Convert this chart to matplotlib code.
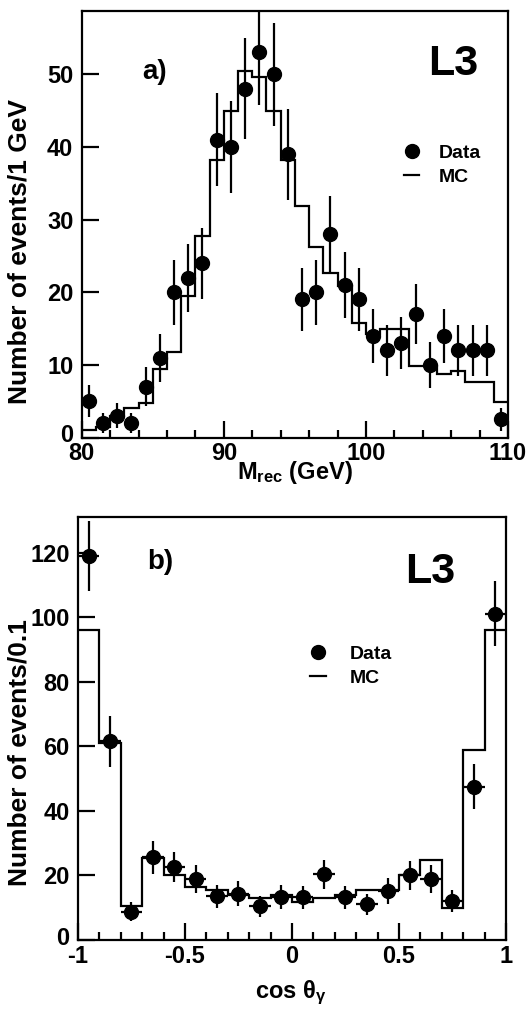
import numpy as np
import matplotlib
matplotlib.use("Agg")
import matplotlib.pyplot as plt
import matplotlib.transforms as mtransforms
from matplotlib.lines import Line2D
from matplotlib.ticker import MultipleLocator, FixedLocator, FuncFormatter

plt.rcParams['font.family'] = ['Liberation Sans', 'DejaVu Sans']
plt.rcParams['font.weight'] = 'bold'
plt.rcParams['mathtext.fontset'] = 'custom'
plt.rcParams['mathtext.rm'] = 'Liberation Sans:bold'
plt.rcParams['mathtext.bf'] = 'Liberation Sans:bold'
plt.rcParams['mathtext.it'] = 'Liberation Sans'
plt.rcParams['axes.unicode_minus'] = False

# ---- panel a: recoil mass ----
mrec_edges = np.arange(80, 111, 1)
mrec_centers = mrec_edges[:-1] + 0.5
mrec_data = [5, 2, 3, 2, 7, 11, 20, 22, 24, 41, 40, 48, 53, 50, 39,
             19, 20, 28, 21, 19, 14, 12, 13, 17, 10, 14, 12, 12, 12, 2.5]
mrec_mc = [1.0, 1.5, 3.0, 4.1, 4.8, 9.4, 11.8, 19.5, 27.7, 38.2, 45.0, 50.5,
           49.6, 45.0, 38.2, 31.9, 26.2, 22.6, 20.8, 15.8, 14.2, 14.9, 14.9,
           9.8, 9.8, 8.7, 9.1, 7.6, 7.6, 4.9]

# ---- panel b: cos theta_gamma ----
cos_edges = np.round(np.arange(-1.0, 1.01, 0.1), 2)
cos_centers = cos_edges[:-1] + 0.05
cos_data = [119, 61.5, 8.7, 25.6, 22.6, 18.8, 13.5, 14.4, 10.5, 13.3,
            13.2, 20.3, 13.2, 11.0, 15.2, 20.0, 19.0, 12.0, 47.5, 101]
cos_mc = [96, 61, 10.5, 25.5, 20, 16.3, 15.4, 13.8, 13.0, 13.8,
          11.8, 12.9, 13.8, 15.4, 15.4, 20.0, 24.8, 9.8, 59, 96]

fig = plt.figure(figsize=(5.29, 10.10), dpi=100)
ax1 = fig.add_axes([0.1544, 0.5668, 0.806, 0.4223])
ax2 = fig.add_axes([0.1474, 0.0693, 0.809, 0.4188])

LW = 1.6
TICKFS = 17
XLABFS = 17
YLABFS = 19

def style(ax):
    for s in ax.spines.values():
        s.set_linewidth(LW)
    ax.tick_params(which='both', direction='in', top=False, right=False,
                   width=LW, labelsize=TICKFS)
    ax.tick_params(axis='y', which='major', pad=6)
    ax.tick_params(which='major', length=12)
    ax.tick_params(which='minor', length=6)
    for lab in ax.get_xticklabels() + ax.get_yticklabels():
        lab.set_fontweight('bold')

def fmt(v, pos):
    if abs(v - round(v)) < 1e-9:
        return '%d' % round(v)
    return ('%.1f' % v)

def lift_zero_label(ax, dy_pt):
    lbl = ax.yaxis.get_major_ticks()[0].label1
    lbl.set_transform(lbl.get_transform() +
                      mtransforms.ScaledTranslation(0, dy_pt / 72, fig.dpi_scale_trans))

# panel a
ax1.stairs(mrec_mc, mrec_edges, color='black', linewidth=LW, baseline=None)
ax1.errorbar(mrec_centers, mrec_data, yerr=np.sqrt(mrec_data), fmt='o',
             color='black', markersize=10, elinewidth=LW, capsize=0)
ax1.set_xlim(80, 110)
ax1.set_ylim(0, 58.7)
ax1.xaxis.set_major_locator(FixedLocator([80, 90, 100, 110]))
ax1.xaxis.set_minor_locator(MultipleLocator(2))
ax1.yaxis.set_major_locator(FixedLocator([0, 10, 20, 30, 40, 50]))
ax1.xaxis.set_major_formatter(FuncFormatter(fmt))
ax1.yaxis.set_major_formatter(FuncFormatter(fmt))
style(ax1)
lift_zero_label(ax1, 3)
ax1.set_xlabel(r'M$_{\mathbf{rec}}$ (GeV)', fontsize=XLABFS, fontweight='bold')
ax1.set_ylabel('Number of events/1 GeV', fontsize=YLABFS, fontweight='bold')
ax1.xaxis.set_label_coords(0.5, -0.05)
ax1.yaxis.set_label_coords(-0.118, 0.437)
ax1.text(0.141, 0.857, 'a)', transform=ax1.transAxes, fontsize=20,
         fontweight='bold', ha='left', va='center')
ax1.text(0.93, 0.875, 'L3', transform=ax1.transAxes, fontsize=31,
         fontweight='bold', ha='right', va='center')
h_data = Line2D([], [], marker='o', color='black', linestyle='none', markersize=10)
h_mc = Line2D([], [], color='black', linewidth=LW)
ax1.legend([h_data, h_mc], ['Data', 'MC'], loc='upper left',
           bbox_to_anchor=(0.757, 0.687), frameon=False,
           handlelength=0.75, handletextpad=1.0, labelspacing=0.3,
           borderpad=0, borderaxespad=0, prop={'weight': 'bold', 'size': 14})

# panel b
ax2.stairs(cos_mc, cos_edges, color='black', linewidth=LW, baseline=None)
ax2.errorbar(cos_centers, cos_data, yerr=np.sqrt(cos_data), xerr=0.05,
             fmt='o', color='black', markersize=10, elinewidth=LW, capsize=0)
ax2.set_xlim(-1, 1)
ax2.set_ylim(0, 131)
ax2.xaxis.set_major_locator(FixedLocator([-1, -0.5, 0, 0.5, 1]))
ax2.xaxis.set_minor_locator(MultipleLocator(0.1))
ax2.yaxis.set_major_locator(FixedLocator([0, 20, 40, 60, 80, 100, 120]))
ax2.xaxis.set_major_formatter(FuncFormatter(fmt))
ax2.yaxis.set_major_formatter(FuncFormatter(fmt))
style(ax2)
lift_zero_label(ax2, 3)
ax2.set_xlabel(r'$\mathbf{cos}\ \theta_{\gamma}$', fontsize=XLABFS)
ax2.set_ylabel('Number of events/0.1', fontsize=YLABFS, fontweight='bold')
ax2.xaxis.set_label_coords(0.497, -0.092)
ax2.yaxis.set_label_coords(-0.108, 0.444)
ax2.text(0.161, 0.894, 'b)', transform=ax2.transAxes, fontsize=20,
         fontweight='bold', ha='left', va='center')
ax2.text(0.881, 0.87, 'L3', transform=ax2.transAxes, fontsize=31,
         fontweight='bold', ha='right', va='center')
ax2.legend([h_data, h_mc], ['Data', 'MC'], loc='upper left',
           bbox_to_anchor=(0.542, 0.696), frameon=False,
           handlelength=0.85, handletextpad=1.2, labelspacing=0.3,
           borderpad=0, borderaxespad=0, prop={'weight': 'bold', 'size': 14})

fig.savefig('out.png', dpi=100)
